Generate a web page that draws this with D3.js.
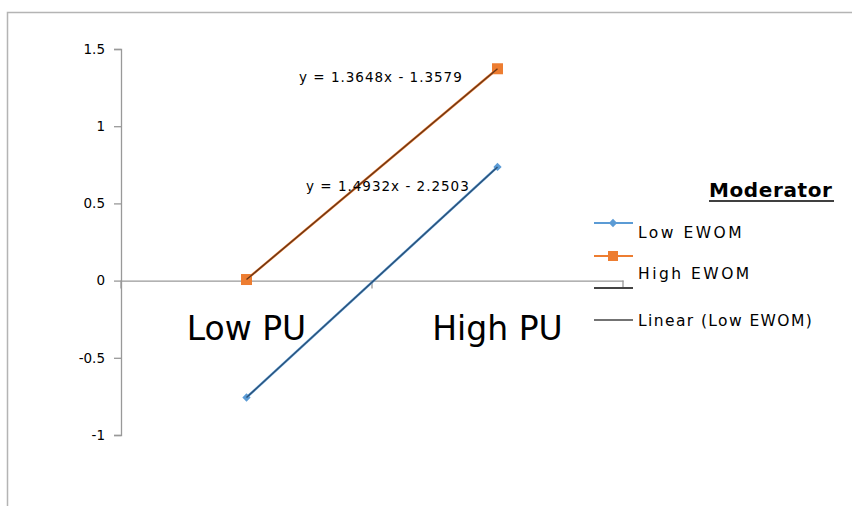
<!DOCTYPE html>
<html><head><meta charset="utf-8">
<script src="https://cdn.jsdelivr.net/npm/d3@7"></script>
<style>body{margin:0;background:#fff}svg{display:block}text{font-family:"DejaVu Sans",sans-serif}</style>
</head><body><svg id="c" width="852" height="506"></svg>
<script>
const categories = ["Low PU", "High PU"];
const lowEWOM = [-0.757, 0.736];
const highEWOM = [0.007, 1.372];
const yTicks = [-1, -0.5, 0, 0.5, 1, 1.5];
const seriesNames = ["Low EWOM", "High EWOM"];
const trendLabels = ["y = 1.4932x - 2.2503", "y = 1.3648x - 1.3579"];
const legendTitle = "Moderator";
const trendLegend = ["", "Linear (Low EWOM)"];

const svg = d3.select("#c");
// outer border
svg.append("path").attr("d","M7.5,506 V12.5 H852").attr("fill","none").attr("stroke","#b4b4b4").attr("stroke-width",1.5);

const x = d3.scaleBand().domain(categories).range([121, 623]).padding(0);
const y = d3.scaleLinear().domain([-1, 1.5]).range([435, 49]);
const cx = c => x(c) + x.bandwidth()/2;

// y axis
const ya = svg.append("g").attr("transform","translate(121,0)")
  .call(d3.axisLeft(y).tickValues(yTicks).tickSize(7).tickPadding(9).tickFormat(d => String(d)));
ya.select(".domain").attr("stroke","#999").attr("stroke-width",1.3);
ya.selectAll(".tick line").attr("stroke","#999").attr("stroke-width",1.3);
ya.selectAll(".tick text").attr("font-size",13.5).attr("fill","#000").attr("font-family","DejaVu Sans");

// x axis at y=0
const xa = svg.append("g").attr("transform",`translate(0,${y(0)})`)
  .call(d3.axisBottom(x).tickSize(0).tickFormat(""));
xa.select(".domain").attr("stroke","#999").attr("stroke-width",1.3);
const bounds = [x(categories[0]), x(categories[1]), x(categories[1]) + x.bandwidth()];
svg.append("g").selectAll("line").data(bounds).join("line")
  .attr("x1",d=>d).attr("x2",d=>d).attr("y1",y(0)).attr("y2",y(0)+8)
  .attr("stroke","#999").attr("stroke-width",1.3);
svg.append("g").selectAll("text").data(categories).join("text")
  .attr("x",d=>cx(d)).attr("y",y(0)+59).attr("text-anchor","middle")
  .attr("font-size",33).attr("fill","#000").text(d=>d);

const line = d3.line().x((d,i)=>cx(categories[i])).y(d=>y(d));
const colors = ["#5b9bd5", "#ed7d31"];
const trendColors = ["#1f3f5f", "#4a2410"];
const data = [lowEWOM, highEWOM];

data.forEach((s,k)=>{
  svg.append("path").datum(s).attr("d",line).attr("fill","none").attr("stroke",colors[k]).attr("stroke-width",2.4);
  if(k===0){
    svg.append("g").selectAll("path").data(s).join("path")
      .attr("d", d3.symbol(d3.symbolDiamond2, 44))
      .attr("transform",(d,i)=>`translate(${cx(categories[i])},${y(d)})`).attr("fill",colors[k]);
  } else {
    svg.append("g").selectAll("rect").data(s).join("rect")
      .attr("x",(d,i)=>cx(categories[i])-5.5).attr("y",d=>y(d)-5.5).attr("width",11).attr("height",11).attr("fill",colors[k]);
  }
});
// trendlines on top
data.forEach((s,k)=>{
  svg.append("path").datum(s).attr("d",line).attr("fill","none").attr("stroke",trendColors[k]).attr("stroke-opacity",0.8).attr("stroke-width",1.4);
});
// equation labels
svg.append("text").attr("x",299).attr("y",82).attr("font-size",13.5).attr("letter-spacing",1).attr("fill","#000").text(trendLabels[1]);
svg.append("text").attr("x",306).attr("y",191).attr("font-size",13.5).attr("letter-spacing",1).attr("fill","#000").text(trendLabels[0]);

// legend
svg.append("text").attr("x",709).attr("y",197).attr("font-size",20).attr("font-weight","bold").attr("letter-spacing",0.6).attr("fill","#000").text(legendTitle);
svg.append("line").attr("x1",709).attr("x2",834).attr("y1",201).attr("y2",201).attr("stroke","#000").attr("stroke-width",1.5);

const lg = svg.append("g");
// Low EWOM
lg.append("line").attr("x1",594).attr("x2",633).attr("y1",223).attr("y2",223).attr("stroke",colors[0]).attr("stroke-width",2.2);
lg.append("path").attr("d",d3.symbol(d3.symbolDiamond2,44)).attr("transform","translate(613,223)").attr("fill",colors[0]);
lg.append("text").attr("x",638).attr("y",238).attr("font-size",15.5).attr("letter-spacing",2.5).attr("fill","#000").text(seriesNames[0]);
// High EWOM
lg.append("line").attr("x1",594).attr("x2",633).attr("y1",256).attr("y2",256).attr("stroke",colors[1]).attr("stroke-width",2.2);
lg.append("rect").attr("x",608).attr("y",251).attr("width",10).attr("height",10).attr("fill",colors[1]);
lg.append("text").attr("x",638).attr("y",279).attr("font-size",15.5).attr("letter-spacing",2.5).attr("fill","#000").text(seriesNames[1]);
// trend legend lines
lg.append("line").attr("x1",594).attr("x2",633).attr("y1",288).attr("y2",288).attr("stroke","#444").attr("stroke-width",1.8);
lg.append("line").attr("x1",594).attr("x2",633).attr("y1",320).attr("y2",320).attr("stroke","#444").attr("stroke-width",1.5);
lg.append("text").attr("x",638).attr("y",326).attr("font-size",15.5).attr("letter-spacing",1.4).attr("fill","#000").text(trendLegend[1]);
</script></body></html>
